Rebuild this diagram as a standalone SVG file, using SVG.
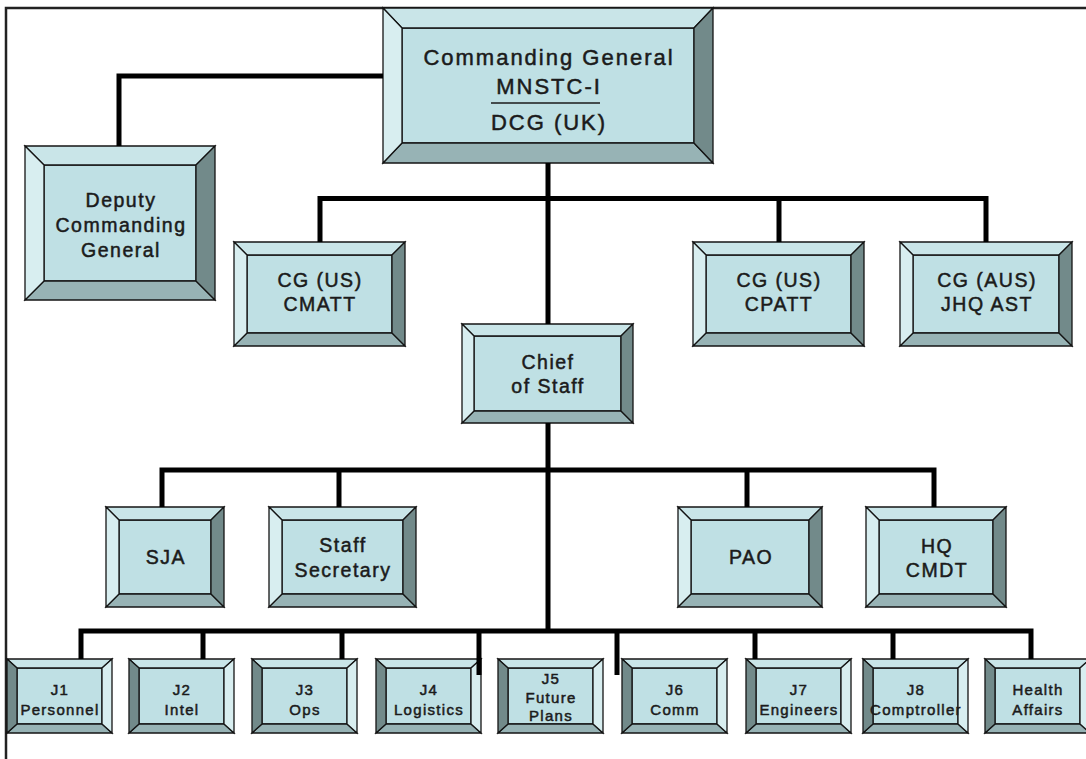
<svg xmlns="http://www.w3.org/2000/svg" xmlns:xlink="http://www.w3.org/1999/xlink" width="1086" height="759" viewBox="0 0 1086 759">
<style>
.bx polygon, .bx rect { stroke:#141414; stroke-width:1.3; stroke-linejoin:miter; }
.f { fill:#bfe0e4; }
.tp { fill:#c9e5e8; }
.bt { fill:#97b3b5; }
.lt { fill:#d8eef0; }
.dk { fill:#728a8a; }
.t { font-family:"Liberation Sans", Arial, sans-serif; fill:#1b1b1b; stroke:#1b1b1b; stroke-width:0.5; text-anchor:middle; }
.t1 { font-size:22px; letter-spacing:2px; }
.t2 { font-size:19.5px; letter-spacing:1.5px; }
.t3 { font-size:15px; letter-spacing:1.3px; }
.c { fill:none; stroke:#000; stroke-width:5; stroke-linejoin:miter; }
</style>
<defs>
<g id="jbox" class="bx">
<rect class="f" x="10" y="9" width="85" height="56"/>
<polygon class="tp" points="0,0 105,0 95,9 10,9"/>
<polygon class="bt" points="0,74 10,65 95,65 105,74"/>
<polygon class="dk" points="0,0 10,9 10,65 0,74"/>
<polygon class="lt" points="105,0 105,74 95,65 95,9"/>
</g>
</defs>
<rect x="6" y="8" width="1100" height="800" fill="none" stroke="#222" stroke-width="2.5"/>

<g id="cg" class="bx">
<rect class="f" x="402" y="28" width="292" height="115"/>
<polygon class="tp" points="383,8 713,8 694,28 402,28"/>
<polygon class="bt" points="383,163 402,143 694,143 713,163"/>
<polygon class="lt" points="383,8 402,28 402,143 383,163"/>
<polygon class="dk" points="713,8 713,163 694,143 694,28"/>
<text class="t t1" x="549" y="65">Commanding General</text>
<text class="t t1" x="549" y="94">MNSTC-I</text>
<path d="M491,103 H600" stroke="#1b1b1b" stroke-width="1.5"/>
<text class="t t1" x="549" y="130">DCG (UK)</text>
</g>

<g id="dcg" class="bx">
<rect class="f" x="44" y="165" width="152" height="116"/>
<polygon class="tp" points="25,146 215,146 196,165 44,165"/>
<polygon class="bt" points="25,300 44,281 196,281 215,300"/>
<polygon class="lt" points="25,146 44,165 44,281 25,300"/>
<polygon class="dk" points="215,146 215,300 196,281 196,165"/>
<text class="t t2" x="121" y="206.5">Deputy</text>
<text class="t t2" x="121" y="231.5">Commanding</text>
<text class="t t2" x="121" y="256.5">General</text>
</g>

<g id="cmatt" class="bx">
<rect class="f" x="247" y="255" width="145" height="78"/>
<polygon class="tp" points="234,242 405,242 392,255 247,255"/>
<polygon class="bt" points="234,346 247,333 392,333 405,346"/>
<polygon class="lt" points="234,242 247,255 247,333 234,346"/>
<polygon class="dk" points="405,242 405,346 392,333 392,255"/>
<text class="t t2" x="320" y="287">CG (US)</text>
<text class="t t2" x="320" y="310.5">CMATT</text>
</g>

<g id="cpatt" class="bx">
<rect class="f" x="706" y="255" width="145" height="78"/>
<polygon class="tp" points="693,242 864,242 851,255 706,255"/>
<polygon class="bt" points="693,346 706,333 851,333 864,346"/>
<polygon class="lt" points="693,242 706,255 706,333 693,346"/>
<polygon class="dk" points="864,242 864,346 851,333 851,255"/>
<text class="t t2" x="779" y="287">CG (US)</text>
<text class="t t2" x="779" y="310.5">CPATT</text>
</g>

<g id="jhq" class="bx">
<rect class="f" x="913" y="255" width="146" height="78"/>
<polygon class="tp" points="900,242 1072,242 1059,255 913,255"/>
<polygon class="bt" points="900,346 913,333 1059,333 1072,346"/>
<polygon class="lt" points="900,242 913,255 913,333 900,346"/>
<polygon class="dk" points="1072,242 1072,346 1059,333 1059,255"/>
<text class="t t2" x="987" y="287">CG (AUS)</text>
<text class="t t2" x="987" y="310.5">JHQ AST</text>
</g>

<g id="cos" class="bx">
<rect class="f" x="474" y="336" width="147" height="75"/>
<polygon class="tp" points="462,324 633,324 621,336 474,336"/>
<polygon class="bt" points="462,423 474,411 621,411 633,423"/>
<polygon class="lt" points="462,324 474,336 474,411 462,423"/>
<polygon class="dk" points="633,324 633,423 621,411 621,336"/>
<text class="t t2" x="548" y="369">Chief</text>
<text class="t t2" x="548" y="393">of Staff</text>
</g>

<g id="sja" class="bx">
<rect class="f" x="119" y="520" width="92" height="74"/>
<polygon class="tp" points="106,507 224,507 211,520 119,520"/>
<polygon class="bt" points="106,607 119,594 211,594 224,607"/>
<polygon class="lt" points="106,507 119,520 119,594 106,607"/>
<polygon class="dk" points="224,507 224,607 211,594 211,520"/>
<text class="t t2" x="166" y="564">SJA</text>
</g>

<g id="staffsec" class="bx">
<rect class="f" x="282" y="520" width="121" height="74"/>
<polygon class="tp" points="269,507 416,507 403,520 282,520"/>
<polygon class="bt" points="269,607 282,594 403,594 416,607"/>
<polygon class="lt" points="269,507 282,520 282,594 269,607"/>
<polygon class="dk" points="416,507 416,607 403,594 403,520"/>
<text class="t t2" x="343" y="551.5">Staff</text>
<text class="t t2" x="343" y="576.5">Secretary</text>
</g>

<g id="pao" class="bx">
<rect class="f" x="691" y="520" width="118" height="74"/>
<polygon class="tp" points="678,507 822,507 809,520 691,520"/>
<polygon class="bt" points="678,607 691,594 809,594 822,607"/>
<polygon class="lt" points="678,507 691,520 691,594 678,607"/>
<polygon class="dk" points="822,507 822,607 809,594 809,520"/>
<text class="t t2" x="751" y="564">PAO</text>
</g>

<g id="hqcmdt" class="bx">
<rect class="f" x="879" y="520" width="114" height="74"/>
<polygon class="tp" points="866,507 1006,507 993,520 879,520"/>
<polygon class="bt" points="866,607 879,594 993,594 1006,607"/>
<polygon class="lt" points="866,507 879,520 879,594 866,607"/>
<polygon class="dk" points="1006,507 1006,607 993,594 993,520"/>
<text class="t t2" x="937" y="552.5">HQ</text>
<text class="t t2" x="937" y="576.5">CMDT</text>
</g>

<g id="j1"><use xlink:href="#jbox" href="#jbox" x="7" y="659"/>
<text class="t t3" x="60" y="694.5">J1</text><text class="t t3" x="60" y="714.5" letter-spacing="1.1">Personnel</text></g>
<g id="j2"><use xlink:href="#jbox" href="#jbox" x="129" y="659"/>
<text class="t t3" x="182" y="694.5">J2</text><text class="t t3" x="182" y="714.5">Intel</text></g>
<g id="j3"><use xlink:href="#jbox" href="#jbox" x="252" y="659"/>
<text class="t t3" x="305" y="694.5">J3</text><text class="t t3" x="305" y="714.5">Ops</text></g>
<g id="j4"><use xlink:href="#jbox" href="#jbox" x="376" y="659"/>
<text class="t t3" x="429" y="694.5">J4</text><text class="t t3" x="429" y="714.5" letter-spacing="1.5">Logistics</text></g>
<g id="j5"><use xlink:href="#jbox" href="#jbox" x="498" y="659"/>
<text class="t t3" x="551" y="684" font-size="14">J5</text><text class="t t3" x="551" y="702.5" font-size="14">Future</text><text class="t t3" x="551" y="720.5" font-size="14">Plans</text></g>
<g id="j6"><use xlink:href="#jbox" href="#jbox" x="622" y="659"/>
<text class="t t3" x="675" y="694.5">J6</text><text class="t t3" x="675" y="714.5">Comm</text></g>
<g id="j7"><use xlink:href="#jbox" href="#jbox" x="746" y="659"/>
<text class="t t3" x="799" y="694.5">J7</text><text class="t t3" x="799" y="714.5">Engineers</text></g>
<g id="j8"><use xlink:href="#jbox" href="#jbox" x="863" y="659"/>
<text class="t t3" x="916" y="694.5">J8</text><text class="t t3" x="916" y="714.5" letter-spacing="0.6">Comptroller</text></g>
<g id="health"><use xlink:href="#jbox" href="#jbox" x="985" y="659"/>
<text class="t t3" x="1038" y="694.5">Health</text><text class="t t3" x="1038" y="714.5">Affairs</text></g>

<g id="connectors" class="c">
<path d="M383,76 H119 V146"/>
<path d="M548,163 V324"/>
<path d="M548,423 V631"/>
<path d="M320,242 V198.5 H986 V242"/>
<path d="M779,198.5 V242"/>
<path d="M162,507 V470 H934 V507"/>
<path d="M339,470 V507"/>
<path d="M747,470 V507"/>
<path d="M81,659 V631 H1031 V659"/>
<path d="M203,631 V659"/>
<path d="M342,631 V659"/>
<path d="M479,631 V675"/>
<path d="M617,631 V675"/>
<path d="M755,631 V659"/>
<path d="M893,631 V659"/>
</g>
</svg>
